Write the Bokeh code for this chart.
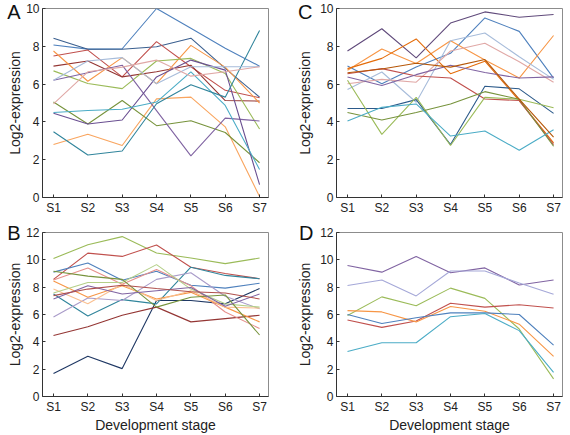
from bokeh.plotting import figure
from bokeh.layouts import gridplot
from bokeh.models import Range1d, FixedTicker, LinearAxis
from bokeh.embed import file_html
from bokeh.resources import INLINE

stages = ["S1", "S2", "S3", "S4", "S5", "S6", "S7"]
xs = [1, 2, 3, 4, 5, 6, 7]

# Panel A series (Log2-expression per stage)
a_blue = [8.07, 7.85, 7.87, 10.0, 8.95, 7.9, 6.95]
a_darkblue = [8.43, 7.84, 7.84, 7.98, 8.43, 6.83, 5.31]
a_red = [7.49, 7.8, 6.38, 8.25, 6.92, 5.67, 5.28]
a_darkred = [6.95, 7.22, 6.38, 6.65, 7.0, 5.13, 5.1]
a_orange = [7.75, 6.15, 7.4, 6.02, 8.05, 6.9, 5.0]
a_orange2 = [2.8, 3.35, 2.75, 5.22, 5.31, 3.74, 0.05]
a_green = [6.7, 6.03, 5.76, 7.22, 7.36, 6.56, 3.62]
a_olive = [5.05, 3.89, 5.13, 3.8, 4.06, 3.44, 1.84]
a_purple = [6.2, 6.6, 7.0, 4.6, 2.2, 4.2, 4.05]
a_purple2 = [4.46, 3.89, 4.1, 6.38, 7.27, 6.74, 0.68]
a_cyan = [4.5, 4.6, 4.67, 5.05, 6.65, 4.87, 1.48]
a_teal = [3.48, 2.25, 2.46, 4.96, 5.97, 5.31, 8.84]
a_lightblue = [6.2, 7.22, 7.4, 6.02, 6.92, 6.92, 6.92]
a_pink = [4.95, 6.65, 6.9, 7.27, 6.42, 6.65, 6.92]

# Panel B series
b_green = [10.1, 11.1, 11.7, 10.5, 10.13, 9.72, 10.13]
b_red = [8.57, 10.49, 10.25, 11.09, 9.46, 9.0, 8.62]
b_blue = [9.1, 9.77, 8.5, 9.17, 8.14, 7.93, 8.29]
b_navy = [1.68, 2.95, 2.04, 7.02, 7.02, 6.78, 7.9]
b_teal = [7.5, 5.89, 7.09, 6.78, 9.46, 8.86, 8.62]
b_darkred = [4.46, 5.1, 5.94, 6.54, 5.46, 5.7, 5.94]
b_lightpurple = [5.82, 7.21, 7.02, 8.57, 9.05, 7.33, 6.42]
b_salmon = [8.53, 9.41, 8.22, 9.29, 8.1, 6.18, 4.98]
b_orange = [8.46, 7.26, 8.1, 7.14, 7.62, 6.54, 5.46]
b_orange2 = [7.86, 6.78, 8.22, 7.02, 7.74, 6.54, 6.47]
b_lightgreen = [7.57, 8.34, 8.34, 9.65, 7.86, 6.78, 6.54]
b_olive = [9.17, 8.81, 8.57, 6.54, 7.26, 7.43, 4.5]
b_purple = [7.14, 8.1, 7.5, 7.74, 7.98, 6.61, 7.5]
b_darkred2 = [7.38, 7.86, 8.14, 7.9, 7.67, 7.57, 7.14]

# Panel C series
c_darkpurple = [7.75, 8.93, 7.39, 9.23, 9.82, 9.54, 9.68]
c_blue = [6.96, 6.02, 6.91, 7.63, 9.5, 8.79, 6.32]
c_orange = [6.73, 7.86, 7.09, 8.29, 7.27, 6.32, 8.57]
c_orange2 = [6.82, 7.36, 8.39, 6.55, 7.21, 5.13, 2.89]
c_lightblue = [5.71, 6.64, 5.04, 8.29, 8.7, 7.45, 6.25]
c_pink = [6.02, 6.25, 6.1, 7.75, 8.16, 7.18, 6.1]
c_red = [6.55, 6.82, 6.43, 6.32, 5.21, 5.13, 2.8]
c_purple = [6.38, 5.93, 6.5, 7.0, 6.61, 6.32, 6.38]
c_darkblue = [4.71, 4.71, 5.18, 2.8, 5.89, 5.75, 4.45]
c_green = [6.2, 3.34, 5.3, 2.75, 5.3, 5.2, 4.75]
c_olive = [4.5, 4.1, 4.5, 4.95, 5.6, 5.2, 2.71]
c_cyan = [4.05, 4.77, 4.95, 3.25, 3.52, 2.5, 3.58]
c_brown = [6.6, 6.8, 7.1, 6.9, 7.3, 5.2, 3.2]

# Panel D series
d_purple = [9.58, 9.1, 10.24, 9.06, 9.41, 8.16, 8.52]
d_lightpurple = [8.12, 8.52, 7.36, 9.18, 9.18, 8.3, 7.48]
d_green = [5.93, 7.29, 6.64, 7.93, 7.18, 4.94, 1.29]
d_red = [5.6, 5.06, 5.53, 6.82, 6.54, 6.71, 6.47]
d_orange = [6.28, 6.19, 5.46, 6.59, 6.24, 5.29, 2.94]
d_blue = [6.0, 5.34, 5.76, 6.12, 6.12, 6.0, 3.76]
d_cyan = [3.29, 3.93, 3.93, 5.84, 6.07, 4.82, 1.76]

y_ticks_a = [0, 2, 4, 6, 8, 10]
y_ticks_b = [0, 2, 4, 6, 8, 10, 12]

FONT = "Liberation Sans"

series_a = [
    (a_blue, "#4F81BD"), (a_darkblue, "#3A5F8F"), (a_red, "#C0504D"),
    (a_darkred, "#943634"), (a_orange, "#F79646"), (a_orange2, "#F9A55F"),
    (a_green, "#9BBB59"), (a_olive, "#77933C"), (a_purple, "#8064A2"),
    (a_purple2, "#6A4F91"), (a_cyan, "#4BACC6"), (a_teal, "#31859C"),
    (a_lightblue, "#A7BCDA"), (a_pink, "#E0A8A6"),
]
series_b = [
    (b_green, "#9BBB59"), (b_red, "#C0504D"), (b_blue, "#4F81BD"),
    (b_navy, "#1F3864"), (b_teal, "#31859C"), (b_darkred, "#943634"),
    (b_lightpurple, "#A99BC9"), (b_salmon, "#E6908C"), (b_orange, "#F79646"),
    (b_orange2, "#FAC090"), (b_lightgreen, "#B5CF88"), (b_olive, "#77933C"),
    (b_purple, "#8064A2"), (b_darkred2, "#B0514E"),
]
series_c = [
    (c_darkpurple, "#604A7B"), (c_blue, "#4F81BD"), (c_orange, "#F79646"),
    (c_orange2, "#E46C0A"), (c_lightblue, "#A7BCDA"), (c_pink, "#E0A8A6"),
    (c_red, "#C0504D"), (c_purple, "#8064A2"), (c_darkblue, "#2C5A8A"),
    (c_green, "#9BBB59"), (c_olive, "#77933C"), (c_cyan, "#4BACC6"),
    (c_brown, "#B65708"),
]
series_d = [
    (d_purple, "#8064A2"), (d_lightpurple, "#A5A8D8"), (d_green, "#9BBB59"),
    (d_red, "#C0504D"), (d_orange, "#F79646"), (d_blue, "#4F81BD"),
    (d_cyan, "#4BACC6"),
]


def make_panel(letter, series, ymax, yticks, width, height, bl, br, bt, bb,
               xlabel, label_standoff, letter_pos, letter_shift):
    p = figure(width=width, height=height, output_backend="svg",
               toolbar_location=None, x_range=Range1d(0.68, 7.26),
               y_range=Range1d(0, ymax), min_border_left=bl,
               min_border_right=br, min_border_top=bt, min_border_bottom=bb)
    for vals, col in series:
        p.line(xs, vals, line_color=col, line_width=1.1)
    p.xgrid.visible = False
    p.ygrid.visible = False
    p.outline_line_color = "#8c8c8c"
    p.outline_line_width = 1
    p.xaxis.ticker = FixedTicker(ticks=xs)
    p.xaxis.major_label_overrides = {x: s for x, s in zip(xs, stages)}
    p.yaxis.ticker = FixedTicker(ticks=yticks)
    for ax in (p.xaxis[0], p.yaxis[0]):
        ax.major_tick_in = 3
        ax.major_tick_out = 0
        ax.minor_tick_line_color = None
        ax.axis_line_color = "#333333"
        ax.major_tick_line_color = "#333333"
        ax.major_label_text_font = FONT
        ax.major_label_text_font_size = "12px"
        ax.major_label_text_color = "#222222"
        ax.major_label_standoff = 3
        ax.axis_label_text_font = FONT
        ax.axis_label_text_font_size = "14px"
        ax.axis_label_text_font_style = "normal"
        ax.axis_label_text_color = "#222222"
    p.yaxis.axis_label = "Log2-expression"
    p.yaxis.axis_label_standoff = label_standoff
    if xlabel:
        p.xaxis.axis_label = "Development stage"
        p.xaxis.axis_label_standoff = 0
    # panel letter, drawn as the only tick label of an outer, line-less axis
    p.extra_y_ranges = {"letter": Range1d(0, 100)}
    lax = LinearAxis(y_range_name="letter", ticker=FixedTicker(ticks=[letter_pos]),
                     major_label_overrides={letter_pos: letter},
                     axis_line_color=None, major_tick_line_color=None,
                     minor_tick_line_color=None, major_tick_in=0, major_tick_out=0,
                     major_label_standoff=letter_shift,
                     major_label_text_font=FONT,
                     major_label_text_font_size="20px",
                     major_label_text_color="#111111")
    p.add_layout(lax, "left")
    return p


pa = make_panel("A", series_a, 10, y_ticks_a, 287, 217, 42, 19, 8, 20, False, 0, 98, -16)
pc = make_panel("C", series_c, 10, y_ticks_a, 283, 217, 49, 8, 8, 20, False, 4, 98, -18)
pb = make_panel("B", series_b, 12, y_ticks_b, 287, 218, 42, 19, 14, 39, True, 0, 99.9, -16)
pd = make_panel("D", series_d, 12, y_ticks_b, 283, 218, 49, 8, 15, 39, True, 4, 99.9, -19)

grid = gridplot([[pa, pc], [pb, pd]], toolbar_location=None)

open("out.html", "w").write(file_html(grid, INLINE))
